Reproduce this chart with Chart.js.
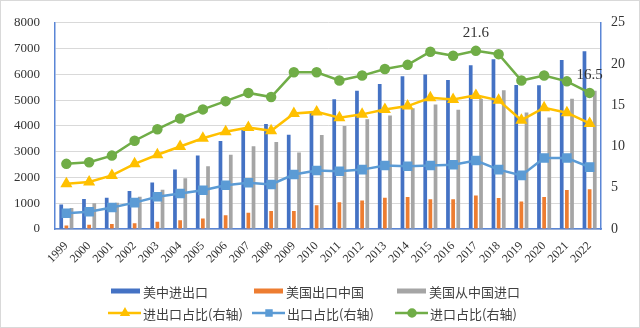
<!DOCTYPE html>
<html>
<head>
<meta charset="utf-8">
<script src="https://cdn.jsdelivr.net/npm/chart.js@4"></script>
<style>
  html, body { margin: 0; padding: 0; background: #fff; }
  #wrap { width: 640px; height: 328px; position: relative; }
</style>
</head>
<body>
<div id="wrap"><canvas id="trade_chart"></canvas></div>
<script>
const years = ['1999','2000','2001','2002','2003','2004','2005','2006','2007','2008','2009','2010',
  '2011','2012','2013','2014','2015','2016','2017','2018','2019','2020','2021','2022'];

// 亿美元
const total_trade = [949, 1162, 1215, 1473, 1808, 2311, 2847, 3415, 3843, 4075, 3659, 4568,
  5035, 5361, 5621, 5922, 5991, 5780, 6350, 6586, 5586, 5575, 6560, 6901];
const us_exports = [131, 162, 192, 221, 284, 344, 412, 537, 629, 698, 695, 919,
  1041, 1105, 1217, 1237, 1159, 1156, 1298, 1201, 1064, 1245, 1511, 1538];
const us_imports = [818, 1000, 1023, 1252, 1524, 1967, 2435, 2878, 3214, 3378, 2964, 3649,
  3994, 4256, 4404, 4685, 4832, 4624, 5052, 5385, 4522, 4325, 5049, 5363];

// %
const trade_share = [5.5, 5.7, 6.5, 7.9, 9.0, 10.0, 11.0, 11.8, 12.3, 11.9, 14.0, 14.2,
  13.5, 13.9, 14.5, 14.9, 15.9, 15.7, 16.2, 15.6, 13.2, 14.7, 14.1, 12.8];
const export_share = [1.9, 2.1, 2.6, 3.2, 3.9, 4.3, 4.7, 5.3, 5.6, 5.4, 6.6, 7.1,
  7.0, 7.2, 7.7, 7.6, 7.7, 7.8, 8.3, 7.2, 6.5, 8.6, 8.6, 7.5];
const import_share = [7.9, 8.1, 8.9, 10.7, 12.1, 13.4, 14.5, 15.5, 16.5, 16.0, 19.0, 19.0,
  18.0, 18.6, 19.4, 19.9, 21.5, 21.0, 21.6, 21.2, 18.0, 18.6, 17.9, 16.5];

const labelled_points = [18, 23]; // 2017 and 2022

const serif = '"Liberation Serif", "Times New Roman", serif';
const cjk = '"Noto Sans CJK SC", sans-serif';
const axis_blue = '#5a86d6';

const bar_opts = { categoryPercentage: 0.68, barPercentage: 0.72, yAxisID: 'y', order: 1 };
const line_opts = { type: 'line', yAxisID: 'y1', borderWidth: 2.5, order: 0, tension: 0 };

const trade_data = {
  labels: years,
  datasets: [
    { ...bar_opts, type: 'bar', label: '美中进出口', data: total_trade, backgroundColor: '#4472C4' },
    { ...bar_opts, type: 'bar', label: '美国出口中国', data: us_exports, backgroundColor: '#ED7D31' },
    { ...bar_opts, type: 'bar', label: '美国从中国进口', data: us_imports, backgroundColor: '#A5A5A5' },
    { ...line_opts, label: '进出口占比(右轴)', data: trade_share, borderColor: '#FFC000',
      backgroundColor: '#FFC000', pointStyle: 'triangle', pointRadius: 4.5 },
    { ...line_opts, label: '出口占比(右轴)', data: export_share, borderColor: '#5B9BD5',
      backgroundColor: '#5B9BD5', pointStyle: 'rect', pointRadius: 5 },
    { ...line_opts, label: '进口占比(右轴)', data: import_share, borderColor: '#70AD47',
      backgroundColor: '#70AD47', pointStyle: 'circle', pointRadius: 4 }
  ]
};

// legend drawn at fixed spots, two rows like the original
const legend_spots = [
  [111, 291], [254, 291], [397, 291],
  [108, 313], [252, 313], [395, 313]
];

const extras = {
  id: 'extras',
  afterDraw(chart) {
    const ctx = chart.ctx;
    ctx.save();
    // frame
    ctx.strokeStyle = '#d9d9d9';
    ctx.lineWidth = 1;
    ctx.strokeRect(0.5, 0.5, chart.width - 1, chart.height - 1);

    // point labels on the import share line
    const meta = chart.getDatasetMeta(5);
    ctx.font = '15px ' + serif;
    ctx.fillStyle = '#333';
    ctx.textAlign = 'center';
    ctx.textBaseline = 'middle';
    labelled_points.forEach(i => {
      const p = meta.data[i];
      ctx.fillText(import_share[i].toFixed(1), p.x, p.y - 18);
    });

    // legend
    ctx.font = '13px ' + cjk;
    ctx.textAlign = 'left';
    chart.data.datasets.forEach((ds, i) => {
      const [x, y] = legend_spots[i];
      ctx.fillStyle = ds.backgroundColor;
      if (ds.type === 'bar') {
        ctx.fillRect(x, y - 2.5, 29, 5);
      } else {
        ctx.strokeStyle = ds.borderColor;
        ctx.lineWidth = 2.5;
        ctx.beginPath();
        ctx.moveTo(x, y);
        ctx.lineTo(x + 33, y);
        ctx.stroke();
        Chart.helpers.drawPoint(ctx, { pointStyle: ds.pointStyle, radius: 3.5, borderWidth: 1 }, x + 17, y);
      }
      ctx.fillStyle = '#404040';
      ctx.fillText(ds.label, x + (ds.type === 'bar' ? 32 : 35), y + 1);
    });
    ctx.restore();
  }
};

const trade_config = {
  data: trade_data,
  options: {
    responsive: true,
    maintainAspectRatio: false,
    animation: false,
    layout: { padding: { top: 17, left: 0, right: 0, bottom: 0 } },
    plugins: {
      legend: { display: false },
      tooltip: { enabled: false }
    },
    scales: {
      x: {
        offset: true,
        grid: { display: false },
        border: { color: axis_blue, width: 1.5 },
        ticks: {
          minRotation: 45, maxRotation: 45, autoSkip: false,
          color: '#333', font: { family: serif, size: 12 }, padding: 2
        },
        afterFit: s => { s.height = 99; }
      },
      y: {
        position: 'left',
        min: 0, max: 8000,
        grid: { color: '#d9d9d9', drawTicks: false },
        border: { color: axis_blue, width: 1.5 },
        ticks: { stepSize: 1000, padding: 15, color: '#333', font: { family: serif, size: 13 },
          callback: v => String(v) },
        afterFit: s => { s.width = 55; }
      },
      y1: {
        position: 'right',
        min: 0, max: 25,
        grid: { drawOnChartArea: false, drawTicks: false },
        border: { color: axis_blue, width: 1.5 },
        ticks: { stepSize: 5, padding: 10, color: '#333', font: { family: serif, size: 14 },
          callback: v => String(v) },
        afterFit: s => { s.width = 39; }
      }
    }
  },
  plugins: [extras]
};

const trade_chart = new Chart(document.getElementById('trade_chart'), trade_config);
</script>
</body>
</html>
